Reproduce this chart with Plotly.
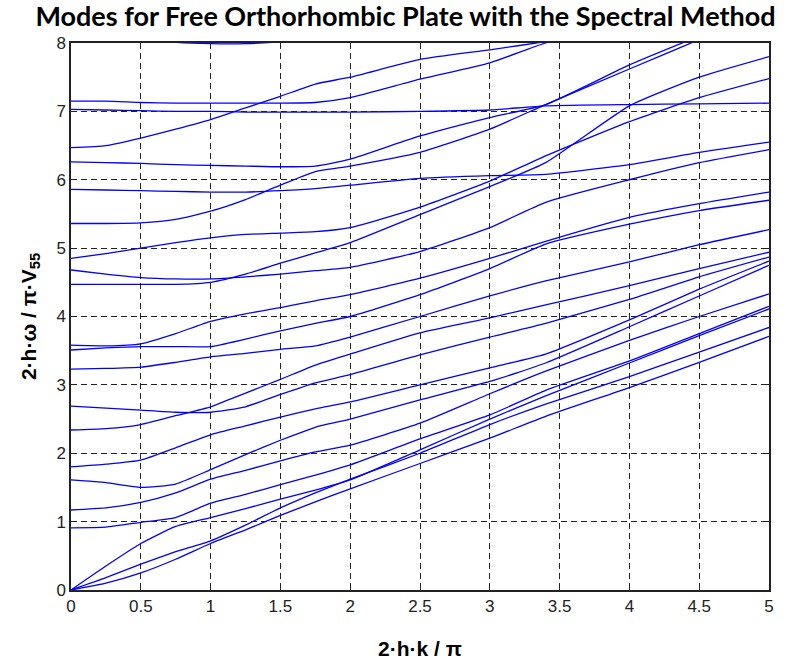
import plotly.graph_objects as go

# wavenumber samples 2hk/pi
X = [0, 0.25, 0.5, 0.75, 1, 1.25, 1.5, 1.75, 2, 2.5, 3, 3.4, 4, 4.5, 5]

# normalised frequencies 2hw/(pi V55)
mode01 = [0, 0.10, 0.25, 0.45, 0.68, 0.88, 1.09, 1.29, 1.48, 1.85, 2.22, 2.54, 2.96, 3.33, 3.71]
mode02 = [0, 0.18, 0.38, 0.56, 0.72, 0.95, 1.20, 1.42, 1.62, 2.00, 2.42, 2.72, 3.12, 3.48, 3.84]
mode03 = [0, 0.35, 0.68, 0.93, 1.06, 1.19, 1.33, 1.46, 1.61, 2.05, 2.50, 2.84, 3.32, 3.72, 4.11]
mode04 = [0.91, 0.92, 0.99, 1.06, 1.27, 1.40, 1.54, 1.68, 1.83, 2.21, 2.56, 2.92, 3.35, 3.75, 4.15]
mode05 = [1.17, 1.20, 1.28, 1.42, 1.62, 1.75, 1.89, 2.02, 2.12, 2.44, 2.87, 3.20, 3.65, 4.00, 4.33]
mode06 = [1.61, 1.57, 1.50, 1.55, 1.76, 1.98, 2.19, 2.38, 2.50, 2.78, 3.05, 3.32, 3.85, 4.30, 4.75]
mode07 = [1.80, 1.84, 1.90, 2.08, 2.27, 2.40, 2.53, 2.65, 2.75, 3.00, 3.25, 3.45, 3.95, 4.40, 4.81]
mode08 = [2.34, 2.36, 2.42, 2.55, 2.68, 2.88, 3.08, 3.29, 3.45, 3.76, 3.98, 4.17, 4.45, 4.70, 4.94]
mode09 = [2.69, 2.66, 2.63, 2.60, 2.60, 2.68, 2.86, 3.03, 3.15, 3.44, 3.70, 3.90, 4.25, 4.58, 4.87]
mode10 = [3.23, 3.24, 3.26, 3.33, 3.41, 3.46, 3.52, 3.57, 3.70, 4.00, 4.30, 4.52, 4.80, 5.05, 5.27]
mode11 = [3.51, 3.54, 3.56, 3.56, 3.56, 3.67, 3.79, 3.90, 4.00, 4.32, 4.70, 5.06, 5.35, 5.55, 5.70]
mode12 = [3.58, 3.57, 3.60, 3.75, 3.93, 4.04, 4.13, 4.23, 4.32, 4.56, 4.85, 5.10, 5.45, 5.65, 5.82]
mode13 = [4.47, 4.47, 4.47, 4.47, 4.50, 4.62, 4.78, 4.93, 5.08, 5.49, 5.90, 6.25, 7.08, 7.50, 7.80]
mode14 = [4.68, 4.62, 4.57, 4.55, 4.55, 4.58, 4.62, 4.67, 4.72, 4.95, 5.30, 5.67, 6.00, 6.25, 6.44]
mode15 = [4.85, 4.92, 5.00, 5.08, 5.15, 5.20, 5.22, 5.24, 5.30, 5.60, 5.98, 6.35, 6.85, 7.20, 7.48]
mode16 = [5.36, 5.36, 5.37, 5.42, 5.54, 5.71, 5.92, 6.12, 6.20, 6.40, 6.74, 7.10, 7.62, 8.05, 8.50]
mode17 = [5.86, 5.85, 5.84, 5.83, 5.82, 5.82, 5.84, 5.87, 5.92, 6.02, 6.06, 6.08, 6.22, 6.40, 6.55]
mode18 = [6.26, 6.25, 6.24, 6.22, 6.21, 6.20, 6.19, 6.20, 6.30, 6.64, 6.91, 7.10, 7.68, 8.10, 8.50]
mode19 = [6.47, 6.50, 6.61, 6.74, 6.88, 7.05, 7.22, 7.40, 7.50, 7.76, 7.90, 8.02, 8.20, 8.40, 8.60]
mode20 = [7.03, 7.02, 7.01, 7.00, 7.00, 6.99, 6.99, 6.99, 6.99, 7.00, 7.02, 7.08, 7.10, 7.11, 7.12]
mode21 = [7.15, 7.15, 7.13, 7.12, 7.12, 7.12, 7.12, 7.13, 7.20, 7.47, 7.71, 8.00, 8.30, 8.50, 8.70]
mode22 = [8.20, 8.12, 8.06, 8.01, 7.99, 7.99, 8.02, 8.10, 8.20, 8.40, 8.60, 8.80, 9.00, 9.20, 9.40]

modes = [mode01, mode02, mode03, mode04, mode05, mode06, mode07, mode08, mode09, mode10, mode11,
         mode12, mode13, mode14, mode15, mode16, mode17, mode18, mode19, mode20, mode21, mode22]

x_ticks = [0, 0.5, 1, 1.5, 2, 2.5, 3, 3.5, 4, 4.5, 5]
x_tick_text = ["0", "0.5", "1", "1.5", "2", "2.5", "3", "3.5", "4", "4.5", "5"]
y_ticks = [0, 1, 2, 3, 4, 5, 6, 7, 8]

fig = go.Figure()
for m in modes:
    fig.add_trace(go.Scatter(x=X, y=m, mode="lines",
                             line=dict(color="#0000ff", width=1.3, shape="spline", smoothing=0.5),
                             showlegend=False, hoverinfo="skip"))

narrow = "Liberation Sans Narrow, Liberation Sans, Arial"
tick_font = dict(family=narrow, size=17, color="#222")
axis_common = dict(showline=True, linecolor="#222", linewidth=1.5, mirror="allticks", ticks="inside",
                   ticklen=6, tickcolor="#222", tickwidth=1.2, showgrid=True, gridcolor="#222", gridwidth=1,
                   griddash="6px,4px", zeroline=False, tickfont=tick_font, layer="below traces")

fig.update_layout(
    width=811, height=668,
    margin=dict(l=71, r=42, t=43, b=78),
    paper_bgcolor="white", plot_bgcolor="white",
    title=dict(text="<b>Modes for Free Orthorhombic Plate with the Spectral Method</b>",
               x=0.5, xanchor="center", y=0.99, yanchor="top",
               font=dict(family="Lato", size=27, color="black")),
    xaxis=dict(range=[0, 5], tickvals=x_ticks, ticktext=x_tick_text,
               title=dict(text="<b>2·h·k / π</b>", font=dict(family=narrow, size=21, color="black"), standoff=26),
               **axis_common),
    yaxis=dict(range=[0, 8], tickvals=y_ticks,
               title=dict(text="<b>2·h·ω / π·V<sub>55</sub></b>", font=dict(family=narrow, size=21, color="black"), standoff=14),
               **axis_common),
)

fig.write_html("out.html")
